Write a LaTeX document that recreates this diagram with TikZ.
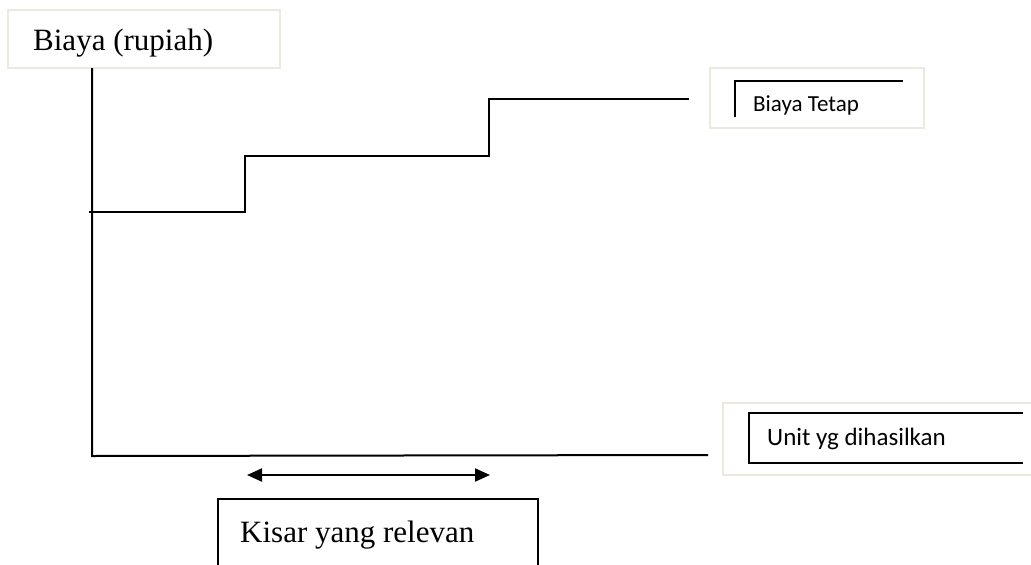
\documentclass[tikz,border=0pt]{standalone}
\usepackage{fontspec}
\setmainfont{Liberation Serif}
\newfontfamily\calibrifont{Carlito}
\usetikzlibrary{arrows.meta}
\definecolor{frame}{RGB}{236,234,222}
\tikzset{
  axis/.style={line width=2pt,black},
  stepline/.style={line width=2pt,black},
  lightbox/.style={draw=frame,line width=2pt},
  inner/.style={draw=black,line width=1.5pt},
  serif/.style={font=\fontsize{31}{36}\selectfont,anchor=base west,inner sep=0pt},
  sans/.style={font=\calibrifont\fontsize{23}{27}\selectfont,anchor=base west,inner sep=0pt},
}
\begin{document}
\begin{tikzpicture}[x=1pt,y=-1pt]
\useasboundingbox[fill=white] (0,0) rectangle (1031,565);
% title box
\draw[lightbox] (8,10) rectangle (280,68);
\node[serif] (title) at (33,50) {Biaya (rupiah)};
% axes
\coordinate (o) at (92,455);
\coordinate (ytop) at (92,68);
\coordinate (xend) at (708,455);
\draw[axis] (ytop) -- (92,456) -- (xend);
% step function
\coordinate (s0) at (89,212);
\coordinate (s1) at (245,212);
\coordinate (s2) at (245,156);
\coordinate (s3) at (489,156);
\coordinate (s4) at (489,99);
\coordinate (s5) at (689,99);
\draw[stepline] (s0) -- (s1) -- (s2) -- (s3) -- (s4) -- (s5);
% Biaya Tetap label
\draw[lightbox] (710,68) rectangle (924,128);
\draw[inner] (735,117) -- (735,81) -- (903,81);
\node[sans] (bt) at (753,111) {Biaya Tetap};
% Unit label
\draw[lightbox] (1035,403) -- (723,403) -- (723,475) -- (1035,475);
\draw[inner] (1023,413) -- (749,413) -- (749,463) -- (1023,463);
\node[sans,font=\calibrifont\fontsize{25}{30}\selectfont] (unit) at (767,445) {Unit yg dihasilkan};
% range arrow
\coordinate (a1) at (247,475);
\coordinate (a2) at (490,475);
\draw[line width=2pt,{Triangle[length=15pt,width=13pt]}-{Triangle[length=15pt,width=13pt]}] (a1) -- (a2);
% Kisar box
\draw[inner,line width=2pt] (218,570) -- (218,499) -- (538,499) -- (538,570);
\node[serif] (kisar) at (240,542) {Kisar yang relevan};
\end{tikzpicture}
\end{document}
